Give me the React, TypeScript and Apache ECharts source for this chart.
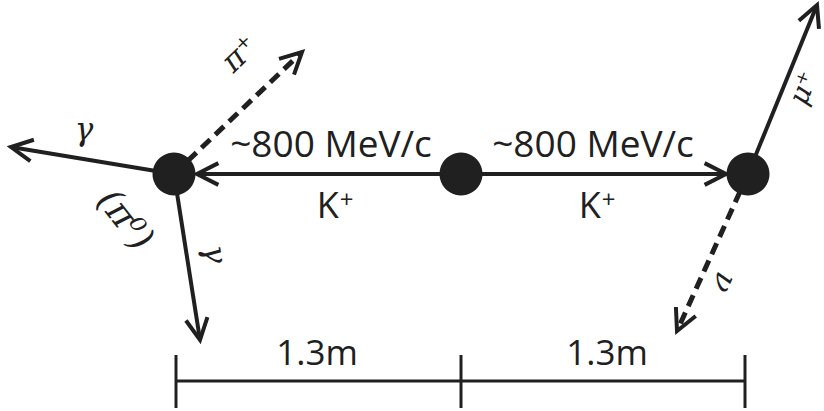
import React, { useEffect, useRef } from "react";
import * as echarts from "echarts";

// Canvas-space extent of the diagram (the chart's x/y value range)
const X_RANGE = [0, 824];
const Y_RANGE = [0, 411];

// Interaction vertices (decay / production points)
const vertexNames = ["K⁺ → π⁺π⁰", "K⁺ production", "K⁺ → μ⁺ν"];
const vertexX = [174, 461, 748];
const vertexY = [174, 174, 174];

// Particle tracks: start point, arrow tip, dashed (charged/neutral style)
const trackNames = ["K⁺ (left)", "K⁺ (right)", "γ (left)", "π⁺", "γ (down)", "μ⁺", "ν"];
const trackFromX = [461, 461, 174, 174, 174, 748, 748];
const trackFromY = [174, 174, 174, 174, 174, 174, 174];
const trackToX = [197, 726, 11, 302, 200, 817, 677];
const trackToY = [174, 174, 147, 52, 340, 5, 331];
const trackDashed = [false, false, false, true, false, false, true];

// Labels: base text, superscript, anchor, rotation (deg), kind
const labelTexts = ["~800 MeV/c", "~800 MeV/c", "K", "K", "1.3m", "1.3m", "γ", "π⁺", "(π⁰)", "γ", "μ⁺", "ν"];
const labelSup = ["", "", "+", "+", "", "", "", "", "", "", "", ""];
const labelX = [331, 593, 335, 597, 317, 607, 84, 239, 126, 216, 803, 725];
const labelY = [142, 142, 204, 204, 351, 351, 129, 53, 219, 254, 88, 283];
const labelRotDeg = [0, 0, 0, 0, 0, 0, 0, 44, -52, -81, 68, -114];
const labelKind = ["momentum", "momentum", "particle", "particle", "distance", "distance", "greek", "greek", "greekLarge", "greek", "greekSmall", "greek"];

// Scale bar
const scaleTickX = [176, 461, 745];
const scaleY = [381];

const INK = "#202020";
const SANS = "'Open Sans', 'Noto Sans', sans-serif";
const SERIF = "'DejaVu Serif', 'Liberation Serif', serif";
const KIND_FONT: Record<string, string> = {
  momentum: `37px ${SANS}`,
  particle: `36px ${SANS}`,
  distance: `35px ${SANS}`,
  greek: `italic 31px ${SERIF}`,
  greekLarge: `italic 36px ${SERIF}`,
  greekSmall: `italic 28px ${SERIF}`,
};

export default function App() {
  const ref = useRef<HTMLDivElement>(null);

  useEffect(() => {
    if (!ref.current) return;
    const chart = echarts.init(ref.current, null, { renderer: "svg" });

    const trackData = trackNames.map((n, i) => ({
      name: n,
      value: [trackFromX[i], trackFromY[i], trackToX[i], trackToY[i], trackDashed[i] ? 1 : 0],
    }));

    const labelData = labelTexts.map((t, i) => ({
      name: t + labelSup[i],
      value: [labelX[i], labelY[i], labelRotDeg[i]],
    }));

    const option: any = {
      animation: false,
      backgroundColor: "#ffffff",
      grid: { left: 0, right: 0, top: 0, bottom: 0 },
      xAxis: { type: "value", min: X_RANGE[0], max: X_RANGE[1], show: false },
      yAxis: { type: "value", min: Y_RANGE[0], max: Y_RANGE[1], inverse: true, show: false },
      series: [
        {
          type: "custom",
          name: "tracks",
          z: 2,
          data: trackData,
          renderItem: (params: any, api: any) => {
            const p0 = api.coord([api.value(0), api.value(1)]);
            const p1 = api.coord([api.value(2), api.value(3)]);
            const dashed = api.value(4) === 1;
            const ang = Math.atan2(p1[1] - p0[1], p1[0] - p0[0]);
            const L = 24;
            const half = 0.47;
            const a1 = ang + Math.PI - half;
            const a2 = ang + Math.PI + half;
            const arm1 = [p1[0] + L * Math.cos(a1), p1[1] + L * Math.sin(a1)];
            const arm2 = [p1[0] + L * Math.cos(a2), p1[1] + L * Math.sin(a2)];
            const end = [p1[0] - 3 * Math.cos(ang), p1[1] - 3 * Math.sin(ang)];
            return {
              type: "group",
              children: [
                {
                  type: "line",
                  shape: { x1: p0[0], y1: p0[1], x2: end[0], y2: end[1] },
                  style: {
                    stroke: INK,
                    lineWidth: dashed ? 5 : 4,
                    lineDash: dashed ? [12, 7] : null,
                    lineCap: "butt",
                  },
                },
                {
                  type: "polyline",
                  shape: { points: [arm1, p1, arm2] },
                  style: { stroke: INK, lineWidth: 4, fill: null, lineJoin: "miter" },
                },
              ],
            };
          },
        },
        {
          type: "scatter",
          name: "vertices",
          z: 3,
          symbol: "circle",
          symbolSize: 43,
          itemStyle: { color: INK, opacity: 1 },
          emphasis: { disabled: true },
          data: vertexNames.map((n, i) => ({ name: n, value: [vertexX[i], vertexY[i]] })),
        },
        {
          type: "custom",
          name: "scale",
          z: 2,
          data: [[scaleTickX[0], scaleY[0], scaleTickX[scaleTickX.length - 1]]],
          renderItem: (params: any, api: any) => {
            const y = scaleY[0];
            const a = api.coord([scaleTickX[0], y]);
            const b = api.coord([scaleTickX[scaleTickX.length - 1], y]);
            const children: any[] = [
              {
                type: "line",
                shape: { x1: a[0], y1: a[1], x2: b[0], y2: b[1] },
                style: { stroke: INK, lineWidth: 3 },
              },
            ];
            scaleTickX.forEach((tx) => {
              const t0 = api.coord([tx, y - 26]);
              const t1 = api.coord([tx, y + 27]);
              children.push({
                type: "line",
                shape: { x1: t0[0], y1: t0[1], x2: t1[0], y2: t1[1] },
                style: { stroke: INK, lineWidth: 3 },
              });
            });
            return { type: "group", children };
          },
        },
        {
          type: "custom",
          name: "labels",
          z: 4,
          data: labelData,
          renderItem: (params: any, api: any) => {
            const i = params.dataIndex;
            const p = api.coord([api.value(0), api.value(1)]);
            const rot = (api.value(2) * Math.PI) / 180;
            const font = KIND_FONT[labelKind[i]];
            const sup = labelSup[i];
            const style: any = {
              x: 0,
              y: 0,
              align: "center",
              verticalAlign: "middle",
              fill: INK,
              font,
            };
            if (sup) {
              style.text = `{b|${labelTexts[i]}}{s|${sup}}`;
              style.rich = {
                b: { font, fill: INK, lineHeight: 40, verticalAlign: "middle" },
                s: { font: `24px ${SANS}`, fill: INK, lineHeight: 40, verticalAlign: "top", padding: [2, 0, 0, 1] },
              };
            } else {
              style.text = labelTexts[i];
            }
            return { type: "text", x: p[0], y: p[1], rotation: rot, style };
          },
        },
      ],
    };

    chart.setOption(option);
    return () => chart.dispose();
  }, []);

  return (
    <div
      ref={ref}
      style={{ position: "fixed", left: 0, top: 0, width: 824, height: 411, background: "#fff" }}
    />
  );
}
